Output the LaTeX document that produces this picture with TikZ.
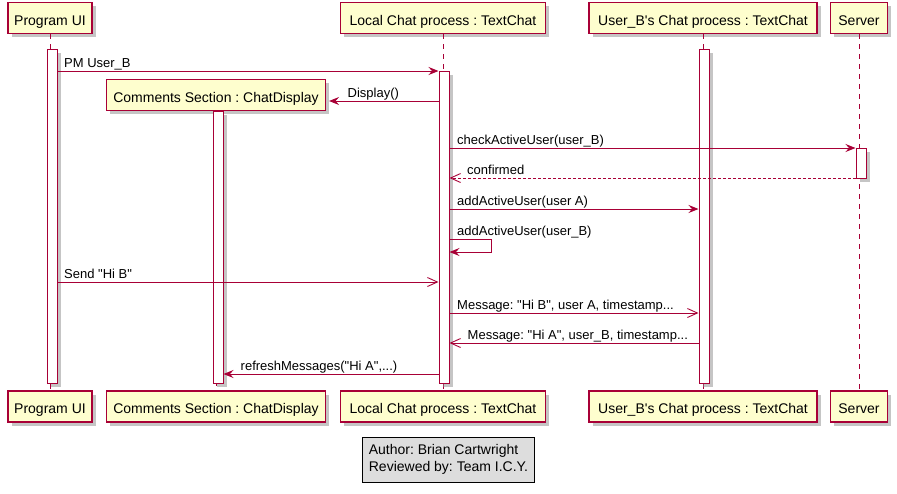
\documentclass[tikz,border=0pt]{standalone}
\usepackage{fontspec}
\setmainfont{Liberation Sans}
\frenchspacing
\usetikzlibrary{arrows.meta,shadows}
\definecolor{umlred}{HTML}{A80036}
\definecolor{umlfill}{HTML}{FEFECE}
\definecolor{footgray}{HTML}{DDDDDD}
\newcommand{\qq}{\textquotedbl}
\tikzset{
  shade4/.style={drop shadow={shadow xshift=3.5pt, shadow yshift=-3.5pt, fill=black!45, opacity=0.5}},
  part/.style={draw=umlred, fill=umlfill, line width=1.1pt, minimum height=31pt, inner sep=0pt,
    text height=17.5pt, text depth=3pt,
    font=\fontsize{14}{16}\selectfont, shade4},
  life/.style={draw=umlred, line width=0.9pt, dash pattern=on 5pt off 5pt},
  actbar/.style={draw=umlred, fill=white, line width=1pt, minimum width=10pt, inner sep=0pt, shade4},
  msg/.style={draw=umlred, line width=1pt, -{Stealth[length=10pt,width=8pt,inset=3.5pt]}},
  openmsg/.style={draw=umlred, line width=0.9pt, -{Straight Barb[length=10pt,width=9pt]}},
  retmsg/.style={openmsg, dash pattern=on 3pt off 2pt},
  lbl/.style={inner sep=0pt, anchor=base west, font=\fontsize{13}{15}\selectfont},
  foot/.style={draw=black, fill=footgray, line width=0.9pt, align=left, inner xsep=6pt,
    minimum height=45pt, font=\fontsize{14}{17}\selectfont}
}
\begin{document}
\begin{tikzpicture}[x=1pt,y=-1pt]
\useasboundingbox (0,0) rectangle (897,493);

% participants (top)
\node[part, minimum width=84pt]  (pu) at (50,18)  {Program UI};
\node[part, minimum width=205pt] (lc) at (443,18) {Local Chat process : TextChat};
\node[part, minimum width=228pt] (ub) at (703,18) {User\_B\textquotesingle s Chat process : TextChat};
\node[part, minimum width=57pt]  (sv) at (859,18) {Server};
\node[part, minimum width=219pt] (cs) at (216,95) {Comments Section : ChatDisplay};

% participants (bottom)
\node[part, minimum width=84pt]  (pu2) at (50,406.5)  {Program UI};
\node[part, minimum width=219pt] (cs2) at (216,406.5) {Comments Section : ChatDisplay};
\node[part, minimum width=205pt] (lc2) at (443,406.5) {Local Chat process : TextChat};
\node[part, minimum width=228pt] (ub2) at (703,406.5) {User\_B\textquotesingle s Chat process : TextChat};
\node[part, minimum width=57pt]  (sv2) at (859,406.5) {Server};

% lifelines
\draw[life] (pu.south) -- (pu2.north);
\draw[life] (cs.south) -- (cs2.north);
\draw[life] (lc.south) -- (lc2.north);
\draw[life] (ub.south) -- (ub2.north);
\draw[life] (sv.south) -- (sv2.north);

% activation bars
\node[actbar, minimum height=334pt] (pua) at (52,216)  {};
\node[actbar, minimum height=272pt] (csa) at (218,247) {};
\node[actbar, minimum height=312pt] (lca) at (444,227) {};
\node[actbar, minimum height=334pt] (uba) at (704,216) {};
\node[actbar, minimum height=30pt]  (sva) at (861,163) {};

% messages
\draw[msg] (pua.east |- 0,71) -- (lca.west |- 0,71);
\node[lbl] (l1) at (64,67) {PM User\_B};

\draw[msg] (lca.west |- 0,101) -- ([xshift=3pt]cs.east |- 0,101);
\node[lbl] (l2) at (347.5,97) {Display()};

\draw[msg] (lca.east |- 0,148) -- (sva.west |- 0,148);
\node[lbl] (l3) at (457,144) {checkActiveUser(user\_B)};

\draw[retmsg] (sva.west |- 0,178) -- (lca.east |- 0,178);
\node[lbl] (l4) at (467,174) {confirmed};

\draw[msg] (lca.east |- 0,209) -- (uba.west |- 0,209);
\node[lbl] (l5) at (457,205) {addActiveUser(user A)};

\draw[msg] (lca.east |- 0,239) -- ++(42,0) -- ++(0,13) -- (lca.east |- 0,252);
\node[lbl] (l6) at (457,235) {addActiveUser(user\_B)};

\draw[openmsg] (pua.east |- 0,282) -- (lca.west |- 0,282);
\node[lbl] (l7) at (64,278) {Send \qq Hi B\qq};

\draw[openmsg] (lca.east |- 0,313) -- (uba.west |- 0,313);
\node[lbl] (l8) at (457,309) {Message: \qq Hi B\qq, user A, timestamp...};

\draw[openmsg] (uba.west |- 0,343) -- (lca.east |- 0,343);
\node[lbl] (l9) at (467.5,339) {Message: \qq Hi A\qq, user\_B, timestamp...};

\draw[msg] (lca.west |- 0,374) -- (csa.east |- 0,374);
\node[lbl] (l10) at (240.5,370) {refreshMessages(\qq Hi A\qq,...)};

% footer
\node[foot] (ft) at (448.5,459.5) {Author: Brian Cartwright\\Reviewed by: Team I.C.Y.};
\end{tikzpicture}
\end{document}
